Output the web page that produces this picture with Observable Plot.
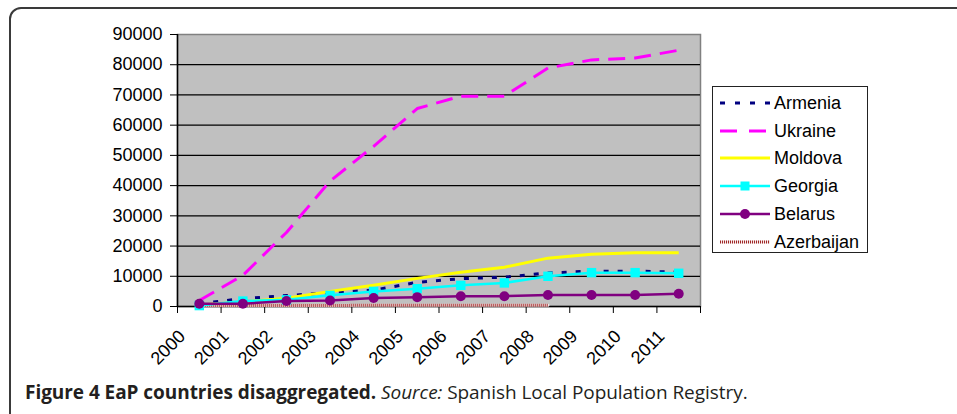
<!DOCTYPE html>
<html>
<head>
<meta charset="utf-8">
<script src="https://cdn.jsdelivr.net/npm/d3@7"></script>
<script src="https://cdn.jsdelivr.net/npm/@observablehq/plot@0.6"></script>
<style>
  html, body { margin: 0; padding: 0; background: #fff; }
  #wrap { position: relative; width: 957px; height: 414px; overflow: hidden; }
  #frame { position: absolute; left: 9px; top: 7px; width: 1000px; height: 420px;
           border: 2px solid #3a3a3a; border-radius: 12px; box-sizing: border-box; }
  #chart { position: absolute; left: 0; top: 0; }
  #legend { position: absolute; left: 712px; top: 86px; width: 156px; height: 167px;
            border: 1px solid #222; box-sizing: border-box; background: #fff;
            font-family: "Liberation Sans", Arial, sans-serif; font-size: 18px; color: #000; }
  .item { position: absolute; left: 6px; height: 20px; display: flex; align-items: center; }
  .item svg { width: 52px; height: 20px; }
  .item span { margin-left: 3px; line-height: 20px; }
  #caption { position: absolute; left: 25px; top: 379px; font-family: "Open Sans", sans-serif;
             font-size: 19px; letter-spacing: -0.05px; color: #231f20; white-space: nowrap; }
  #caption b { font-weight: 700; }
</style>
</head>
<body>
<div id="wrap">
  <div id="frame"></div>
  <div id="chart"></div>
  <div id="legend"></div>
  <div id="caption"><b>Figure 4 EaP countries disaggregated.</b> <i>Source:</i> Spanish Local Population Registry.</div>
</div>
<script>
// ---- data ----
const years = [2000, 2001, 2002, 2003, 2004, 2005, 2006, 2007, 2008, 2009, 2010, 2011];
const countries = ["Armenia", "Ukraine", "Moldova", "Georgia", "Belarus", "Azerbaijan"];
const armenia    = [1000, 2600, 3600, 4600, 5400, 8000, 9200, 9700, 11100, 11700, 11700, 11400];
const ukraine    = [2000, 10300, 24500, 41500, 53000, 65500, 69600, 69600, 78900, 81600, 82200, 84800];
const moldova    = [500, 1500, 2700, 5000, 7000, 9300, 11300, 13000, 16000, 17300, 17800, 17800];
const georgia    = [300, 1800, 2200, 3700, 5000, 5900, 7000, 7800, 10000, 11200, 11200, 11000];
const belarus    = [900, 900, 1800, 2000, 2800, 3100, 3400, 3400, 3800, 3800, 3800, 4200];
const azerbaijan = [300, 300, 350, 350, 400, 400, 400, 400, 400];
const yTicks = [0, 10000, 20000, 30000, 40000, 50000, 60000, 70000, 80000, 90000];

const valuesBy = {Armenia: armenia, Ukraine: ukraine, Moldova: moldova, Georgia: georgia, Belarus: belarus, Azerbaijan: azerbaijan};
const rows = c => valuesBy[c].map((v, i) => ({country: c, year: years[i], value: v}));

// ---- styles ----
const style = {
  Armenia:    {stroke: "#000080", strokeWidth: 3, dash: "5,9"},
  Ukraine:    {stroke: "#ff00ff", strokeWidth: 3, dash: "17,9"},
  Moldova:    {stroke: "#ffff00", strokeWidth: 3, dash: null},
  Georgia:    {stroke: "#00ffff", strokeWidth: 2.5, dash: null},
  Belarus:    {stroke: "#800080", strokeWidth: 2.5, dash: null},
  Azerbaijan: {stroke: "#a02828", strokeWidth: 3, dash: "1,1"}
};

const boundaries = years.map(y => y - 0.5).concat([years[years.length - 1] + 0.5]);
const xDomain = [boundaries[0], boundaries[boundaries.length - 1]];

const lineMark = c => Plot.line(rows(c), {x: "year", y: "value", stroke: style[c].stroke,
  strokeWidth: style[c].strokeWidth, strokeDasharray: style[c].dash, strokeLinecap: "butt", strokeLinejoin: "round"});

const chart = Plot.plot({
  width: 957,
  height: 372,
  marginLeft: 177,
  marginRight: 257,
  marginTop: 34,
  marginBottom: 66,
  style: {fontFamily: "'Liberation Sans', Arial, sans-serif", fontSize: "18px", color: "#000", background: "transparent", overflow: "visible"},
  x: {type: "linear", domain: xDomain},
  y: {domain: [0, 90000]},
  marks: [
    Plot.frame({fill: "#c0c0c0", stroke: "#808080", strokeWidth: 1.5}),
    Plot.gridY(yTicks.filter(d => d > 0 && d < 90000), {stroke: "#000", strokeOpacity: 1, strokeWidth: 1.2}),
    Plot.axisY({ticks: yTicks, tickSize: 7, tickPadding: 8, tickFormat: d => String(d), label: null, fontSize: 18, stroke: "#000"}),
    Plot.axisX({ticks: boundaries, tickSize: 7, tickFormat: () => "", label: null, stroke: "#000"}),
    Plot.ruleX([xDomain[0]], {stroke: "#000", strokeWidth: 1.5}),
    Plot.ruleY([0], {stroke: "#000", strokeWidth: 1.5}),
    Plot.text(years, {x: d => d, frameAnchor: "bottom", text: d => String(d), rotate: -45,
      textAnchor: "end", dx: -13, dy: 31, fontSize: 18, fill: "#000"}),
    lineMark("Armenia"),
    lineMark("Ukraine"),
    lineMark("Moldova"),
    Plot.line(rows("Azerbaijan"), {x: "year", y: "value", stroke: "#f4e8e8", strokeWidth: 3}),
    lineMark("Azerbaijan"),
    lineMark("Georgia"),
    Plot.dot(rows("Georgia"), {x: "year", y: "value", symbol: "square", r: 5.3, fill: "#00ffff", stroke: null}),
    lineMark("Belarus"),
    Plot.dot(rows("Belarus"), {x: "year", y: "value", r: 5, fill: "#800080", stroke: null})
  ]
});
document.getElementById("chart").appendChild(chart);

// ---- legend ----
const legend = d3.select("#legend");
countries.forEach((c, i) => {
  const item = legend.append("div").attr("class", "item").style("top", (6 + i * 27.7) + "px");
  const svg = item.append("svg").attr("viewBox", "0 0 52 20");
  if (c === "Azerbaijan") {
    svg.append("line").attr("x1", 1).attr("x2", 51).attr("y1", 10).attr("y2", 10)
      .attr("stroke", "#f4e8e8").attr("stroke-width", 3);
  }
  svg.append("line").attr("x1", 1).attr("x2", 51).attr("y1", 10).attr("y2", 10)
    .attr("stroke", style[c].stroke).attr("stroke-width", style[c].strokeWidth)
    .attr("stroke-dasharray", style[c].dash ? (c === "Ukraine" ? "17,12" : c === "Armenia" ? "5,10" : style[c].dash) : null);
  if (c === "Georgia") svg.append("rect").attr("x", 21.5).attr("y", 5.5).attr("width", 9).attr("height", 9).attr("fill", "#00ffff");
  if (c === "Belarus") svg.append("circle").attr("cx", 26).attr("cy", 10).attr("r", 5).attr("fill", "#800080");
  item.append("span").text(c);
});
</script>
</body>
</html>
